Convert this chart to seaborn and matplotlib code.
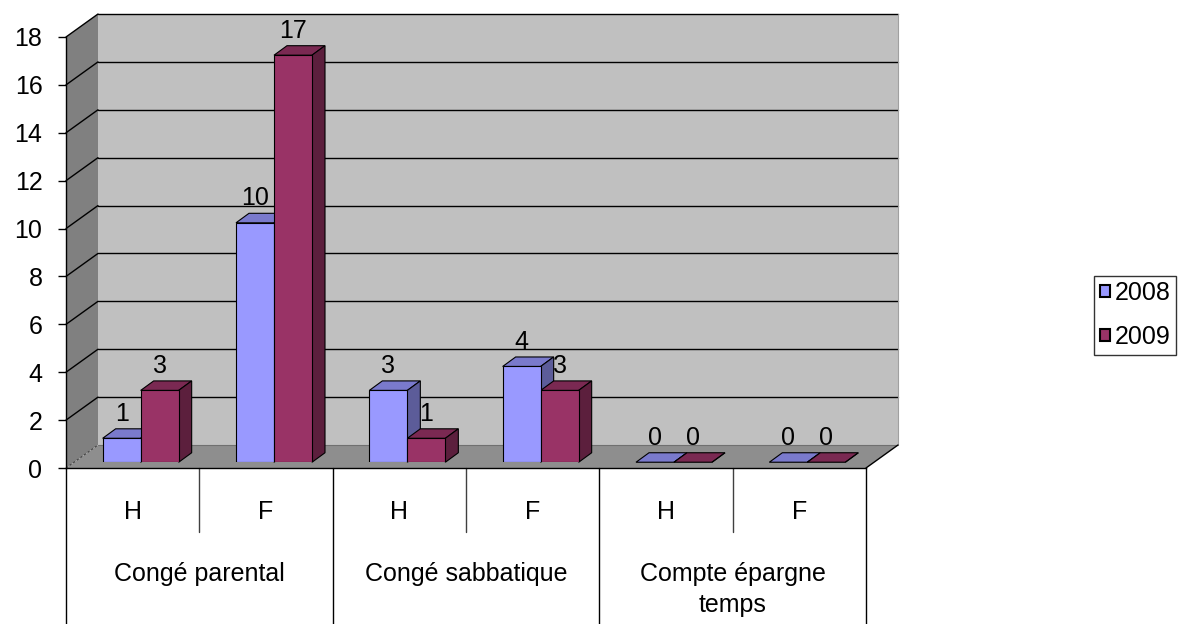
import pandas as pd
import matplotlib
matplotlib.use('Agg')
import matplotlib.pyplot as plt
from matplotlib.patches import Polygon, Patch
from matplotlib.lines import Line2D
from matplotlib.colors import to_rgb
from matplotlib.transforms import IdentityTransform, blended_transform_factory
import seaborn as sns

# Data
groups = ['Congé parental', 'Congé sabbatique', 'Compte épargne\ntemps']
sexes = ['H', 'F']
years = ['2008', '2009']
values_2008 = [1, 10, 3, 4, 0, 0]
values_2009 = [3, 17, 1, 3, 0, 0]
colors = {'2008': '#9999ff', '2009': '#993366'}

# Geometry of the fake 3D box (pixels)
W, H = 1188, 624
L, R, T, B = 66, 866, 37, 468
DX, DY = 32, 23          # wall depth
BDX, BDY = 13, 9.5       # bar depth
SHIFT = 0.25             # bars stand a bit back on the floor

sns.set_style('white')
plt.rcParams['font.family'] = ['Liberation Sans', 'DejaVu Sans']
for k in ['text.color', 'axes.labelcolor', 'xtick.color', 'ytick.color']:
    plt.rcParams[k] = 'black'
FS = 18

keys = [f'{g}|{s}' for g in groups for s in sexes]
df = pd.DataFrame({
    'cat': keys * 2,
    'year': [years[0]] * len(keys) + [years[1]] * len(keys),
    'value': values_2008 + values_2009,
})

fig = plt.figure(figsize=(W / 100, H / 100), dpi=100)


def box(dx=0, dy=0):
    return [(L + dx) / W, 1 - (B - dy) / H, (R - L) / W, (B - T) / H]


ax = fig.add_axes(box())
ax.set_xlim(-0.5, 5.5)
ax.set_ylim(0, 18)
ax.patch.set_alpha(0)
ident = IdentityTransform()


def d(x, y, back=False):
    px, py = ax.transData.transform((x, y))
    if back:
        px, py = px + DX, py + DY
    return (px, py)


def poly(pts, fc, z=0, ec='none', lw=0, target=None):
    (target or ax).add_patch(Polygon(pts, closed=True, facecolor=fc, edgecolor=ec, linewidth=lw,
                                     transform=ident, clip_on=False, zorder=z))


def line(p, q, color='black', lw=1, ls='-', z=0.3, target=None):
    (target or ax).add_line(Line2D([p[0], q[0]], [p[1], q[1]], color=color, lw=lw, ls=ls,
                                   transform=ident, clip_on=False, zorder=z))


x0, x1, ytop = -0.5, 5.5, 18
# walls and floor
poly([d(x0, 0, True), d(x1, 0, True), d(x1, ytop, True), d(x0, ytop, True)], '#c0c0c0', 0.1)
poly([d(x0, 0), d(x0, ytop), d(x0, ytop, True), d(x0, 0, True)], '#808080', 0.1)
poly([d(x0, 0), d(x1, 0), d(x1, 0, True), d(x0, 0, True)], '#8e8e8e', 0.1)

yticks = list(range(0, 19, 2))
for v in yticks[1:]:
    line(d(x0, v, True), d(x1, v, True))
    line(d(x0, v), d(x0, v, True))
line(d(x0, 0), d(x0, 0, True), color='#404040', lw=0.8, ls=(0, (2, 2)))
line(d(x0, 0, True), d(x1, 0, True), color='#707070', lw=0.8)
line(d(x1, 0, True), d(x1, ytop, True), color='#a0a0a0', lw=0.8)
line(d(x1, 0), d(x1, 0, True))

# y axis
for s in ['top', 'right']:
    ax.spines[s].set_visible(False)
for s in ['left', 'bottom']:
    ax.spines[s].set_color('black')
    ax.spines[s].set_linewidth(1)
ax.set_xticks([])
ax.set_yticks(yticks)
ax.tick_params(axis='y', left=True, length=6, width=1, pad=11, labelsize=FS, colors='black')

# category table under the floor
tb = blended_transform_factory(ax.transData, ax.transAxes)


def fy(p):
    return (B - p) / (B - T)


for xb in [-0.5, 1.5, 3.5, 5.5]:
    ax.plot([xb, xb], [0, fy(624)], color='black', lw=1, transform=tb, clip_on=False)
for xb in [0.5, 2.5, 4.5]:
    ax.plot([xb, xb], [0, fy(532)], color='#404040', lw=1, transform=tb, clip_on=False)
for i, k in enumerate(keys):
    ax.text(i, fy(512), k.split('|')[1], ha='center', va='center', fontsize=FS, transform=tb)
for g, name in enumerate(groups):
    ax.text(2 * g + 0.5, fy(562), name, ha='center', va='top', fontsize=FS,
            linespacing=1.38, transform=tb)

# bars
axb = fig.add_axes(box(DX * SHIFT, DY * SHIFT))
sns.barplot(data=df, x='cat', y='value', hue='year', order=keys, hue_order=years,
            palette=colors, width=0.57, saturation=1, edgecolor='black', linewidth=0.8,
            legend=False, ax=axb)
axb.set_xlim(-0.5, 5.5)
axb.set_ylim(0, 18)
axb.axis('off')
axb.patch.set_alpha(0)

for cont, yr in zip(axb.containers, years):
    base = to_rgb(colors[yr])
    top_c = tuple(c * 0.8 for c in base)
    side_c = tuple(c * 0.6 for c in base)
    for rect in cont:
        bx, bw, bh = rect.get_x(), rect.get_width(), rect.get_height()
        p0 = axb.transData.transform((bx, bh))
        p1 = axb.transData.transform((bx + bw, bh))
        p2 = axb.transData.transform((bx + bw, 0))
        poly([p0, p1, (p1[0] + BDX, p1[1] + BDY), (p0[0] + BDX, p0[1] + BDY)],
             top_c, 0.5, 'black', 0.8, axb)
        poly([p2, p1, (p1[0] + BDX, p1[1] + BDY), (p2[0] + BDX, p2[1] + BDY)],
             side_c, 0.5, 'black', 0.8, axb)
    axb.bar_label(cont, fmt='%g', padding=9, fontsize=FS)

# legend
handles = [Patch(facecolor=colors[y], edgecolor='black', linewidth=1.5, label=y) for y in years]
leg = fig.legend(handles=handles, loc='center left', bbox_to_anchor=(1094 / W, 1 - 315 / H),
                 fontsize=FS, frameon=True, fancybox=False, edgecolor='black',
                 handlelength=0.4, handleheight=0.4, handletextpad=0.22,
                 labelspacing=0.8, borderpad=0.22, borderaxespad=0)
leg.get_frame().set_linewidth(1)

fig.savefig('out.png', dpi=100)
